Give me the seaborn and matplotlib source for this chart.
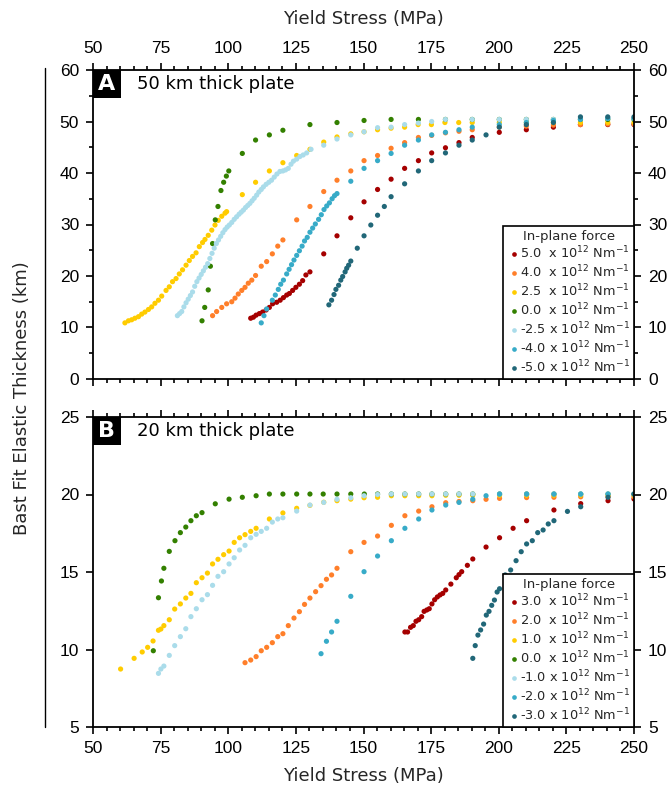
import numpy as np
import pandas as pd
import seaborn as sns
import matplotlib.pyplot as plt
from matplotlib.ticker import MultipleLocator
from matplotlib.lines import Line2D
from matplotlib.patches import Rectangle

# =========================================================
# DATA
# =========================================================
colors = ["#a50000", "#ff7f2a", "#ffcc00", "#338000", "#aadcea", "#37abc8", "#216778"]

labels_a = ["5.0  x 10$^{12}$ Nm$^{-1}$", "4.0  x 10$^{12}$ Nm$^{-1}$", "2.5  x 10$^{12}$ Nm$^{-1}$",
            "0.0  x 10$^{12}$ Nm$^{-1}$", "-2.5 x 10$^{12}$ Nm$^{-1}$", "-4.0 x 10$^{12}$ Nm$^{-1}$",
            "-5.0 x 10$^{12}$ Nm$^{-1}$"]
labels_b = ["3.0  x 10$^{12}$ Nm$^{-1}$", "2.0  x 10$^{12}$ Nm$^{-1}$", "1.0  x 10$^{12}$ Nm$^{-1}$",
            "0.0  x 10$^{12}$ Nm$^{-1}$", "-1.0 x 10$^{12}$ Nm$^{-1}$", "-2.0 x 10$^{12}$ Nm$^{-1}$",
            "-3.0 x 10$^{12}$ Nm$^{-1}$"]

# ---- Panel A: 50 km thick plate ----
a_red_x = [108.3, 109.3, 110.3, 111.5, 112.7, 114.0, 115.2, 116.4, 117.9, 119.2, 120.4, 121.6, 122.6, 123.8,
           125.0, 126.3, 127.5, 128.7, 130.2, 135.3, 140.2, 145.3, 150.2, 155.2, 160.2, 165.2, 170.3, 175.2,
           180.3, 185.3, 190.2, 200.2, 210.2, 220.2, 230.2, 240.3, 250.0]
a_red_y = [11.8, 12.0, 12.4, 12.7, 13.0, 13.4, 13.9, 14.6, 14.9, 15.3, 15.8, 16.3, 16.6, 17.2,
           17.8, 18.4, 19.1, 20.2, 20.8, 24.3, 27.8, 31.3, 34.4, 36.8, 38.8, 40.9, 42.4, 43.9,
           44.9, 45.9, 46.9, 47.9, 48.4, 48.9, 49.4, 49.4, 49.4]

a_orange_x = [94.2, 95.7, 97.6, 99.4, 101.3, 102.5, 103.7, 105.0, 106.2, 107.4, 108.7, 110.1, 112.2, 114.2,
              116.3, 118.3, 120.2, 125.3, 130.2, 135.3, 140.2, 145.3, 150.2, 155.2, 160.2, 165.2, 170.3,
              175.2, 180.3, 185.3, 190.2, 200.2, 210.2, 220.2, 230.2, 240.3, 250.0]
a_orange_y = [12.3, 13.1, 13.9, 14.6, 15.0, 15.7, 16.5, 17.2, 17.8, 18.6, 19.2, 20.1, 21.9, 22.8,
              24.3, 25.8, 27.0, 30.9, 33.5, 36.4, 38.6, 40.4, 42.4, 43.4, 44.8, 45.9, 46.9,
              47.3, 47.8, 48.1, 48.4, 48.9, 49.1, 49.3, 49.4, 49.5, 49.5]

a_yellow_x = [61.8, 63.1, 64.3, 65.5, 66.8, 68.0, 69.2, 70.5, 71.7, 72.9, 74.2, 75.4, 77.0, 78.2, 79.4,
              80.7, 81.9, 83.1, 84.4, 85.6, 86.8, 88.1, 89.3, 90.5, 91.4, 92.6, 93.9, 95.1, 96.3, 97.6,
              98.8, 99.4, 105.2, 110.1, 115.2, 120.2, 125.3, 130.2, 135.3, 140.2, 145.3, 150.2, 155.2,
              160.2, 165.2, 170.2, 175.1, 180.1, 185.2, 190.2, 200.2, 210.2, 220.2, 230.2, 240.3, 250.0]
a_yellow_y = [10.9, 11.3, 11.5, 11.8, 12.1, 12.6, 13.0, 13.5, 14.0, 14.7, 15.3, 16.1, 17.2, 17.9, 18.9,
              19.5, 20.4, 21.2, 22.1, 23.0, 23.8, 24.5, 25.7, 26.5, 27.1, 27.9, 28.9, 29.9, 30.8, 31.6,
              32.2, 32.5, 35.8, 38.2, 40.4, 42.0, 43.4, 44.6, 46.0, 47.0, 47.6, 48.0, 48.4,
              48.7, 48.9, 49.4, 49.4, 49.8, 49.8, 49.8, 49.8, 49.8, 49.8, 49.8, 49.8, 49.8]

a_green_x = [90.3, 91.3, 92.6, 93.4, 94.2, 95.2, 96.2, 97.3, 98.3, 99.3, 100.2, 105.2, 110.1, 115.2,
             120.2, 130.2, 140.2, 150.2, 160.2, 170.3, 180.3, 190.2, 200.2, 210.2, 220.2, 230.2, 240.3, 250.0]
a_green_y = [11.3, 13.9, 17.3, 21.9, 26.3, 30.9, 33.5, 36.6, 38.2, 39.4, 40.4, 43.8, 46.4, 47.4,
             48.3, 49.4, 49.8, 50.2, 50.4, 50.4, 50.4, 50.4, 50.4, 50.4, 50.4, 50.4, 50.4, 50.4]

a_lblue_x = [81.2, 82.0, 82.8, 83.6, 84.4, 85.2, 86.0, 86.8, 87.6, 88.4, 89.2, 90.0, 90.8, 91.6, 92.4,
             93.2, 94.0, 94.8, 95.6, 96.4, 97.2, 98.0, 98.8, 99.6, 100.4, 101.3, 102.2, 103.1, 104.0,
             104.8, 105.6, 106.4, 107.2, 108.0, 108.8, 109.6, 110.5, 111.3, 112.2, 113.0, 114.0, 115.0,
             116.0, 117.0, 118.0, 119.1, 120.2, 121.2, 122.2, 123.2, 124.1, 125.3, 126.5, 127.7, 129.0,
             130.6, 135.3, 140.2, 145.3, 150.2, 155.2, 160.2, 165.2, 170.3, 175.2, 180.3, 190.2, 200.2,
             210.2, 220.2, 230.2, 240.3, 250.0]
a_lblue_y = [12.3, 12.7, 13.1, 14.0, 14.8, 15.5, 16.2, 16.9, 18.0, 18.9, 19.6, 20.3, 21.0, 21.7, 22.4,
             23.4, 24.4, 25.4, 26.3, 27.0, 27.7, 28.4, 29.0, 29.5, 29.9, 30.4, 31.0, 31.5, 32.0,
             32.4, 32.8, 33.3, 33.7, 34.1, 34.6, 35.1, 35.7, 36.3, 36.8, 37.3, 37.8, 38.2,
             38.6, 39.2, 39.8, 40.3, 40.4, 40.6, 40.9, 41.7, 42.3, 42.7, 43.2, 43.5, 43.9,
             44.6, 45.4, 46.6, 47.4, 48.0, 48.8, 48.9, 49.4, 49.7, 50.0, 50.4, 50.4, 50.4,
             50.4, 50.4, 50.6, 50.6, 50.6]

a_blue_x = [112.2, 113.2, 114.2, 116.3, 117.4, 118.5, 119.4, 120.4, 121.6, 122.5, 123.4, 124.3, 125.3,
            126.3, 127.3, 128.2, 129.2, 130.2, 131.2, 132.2, 133.4, 134.4, 135.4, 136.4, 137.4, 138.4,
            139.3, 140.2, 145.3, 150.2, 155.2, 160.2, 165.2, 170.3, 175.2, 180.3, 185.3, 190.2, 200.2,
            210.2, 220.2, 230.2, 240.3, 250.0]
a_blue_y = [10.9, 12.3, 13.6, 15.3, 16.3, 17.4, 18.4, 19.2, 20.4, 21.3, 22.2, 23.1, 24.0,
            24.9, 25.8, 26.8, 27.5, 28.5, 29.3, 30.1, 31.0, 31.9, 32.9, 33.6, 34.2, 35.0,
            35.6, 36.0, 38.4, 40.9, 42.4, 43.8, 45.4, 46.4, 47.4, 47.9, 48.4, 48.9, 49.4,
            49.8, 50.2, 50.4, 50.6, 50.6]

a_teal_x = [137.2, 138.2, 139.1, 139.8, 140.8, 141.6, 142.3, 143.2, 143.8, 144.5, 145.3, 147.7, 150.2,
            152.7, 155.2, 157.7, 160.2, 165.2, 170.3, 175.2, 180.3, 185.3, 190.2, 195.3, 200.2, 210.2,
            220.2, 230.2, 240.3, 250.0]
a_teal_y = [14.4, 15.3, 16.4, 17.4, 18.2, 19.2, 19.9, 20.8, 21.5, 22.1, 22.9, 25.4, 27.8,
            29.9, 31.8, 33.5, 35.4, 37.9, 40.4, 42.4, 43.9, 45.4, 46.4, 47.4, 48.9, 49.4,
            49.8, 50.9, 50.9, 50.9]

# ---- Panel B: 20 km thick plate ----
b_red_x = [165.3, 166.3, 167.4, 168.4, 169.4, 170.4, 171.5, 172.4, 173.4, 174.3, 175.3, 176.3, 177.3,
           178.3, 179.3, 180.4, 182.3, 184.3, 185.3, 186.3, 188.4, 190.4, 195.3, 200.3, 205.3, 210.3,
           220.4, 230.3, 240.4, 250.0]
b_red_y = [11.13, 11.13, 11.43, 11.54, 11.82, 11.92, 12.12, 12.46, 12.55, 12.63, 12.94, 13.21, 13.39,
           13.52, 13.62, 13.84, 14.22, 14.63, 14.83, 15.02, 15.43, 15.84, 16.61, 17.21, 17.82, 18.31,
           19.0, 19.41, 19.6, 19.71]

b_orange_x = [106.2, 108.3, 110.3, 112.2, 114.2, 116.3, 118.3, 120.2, 122.2, 124.3, 126.3, 128.2, 130.2,
              132.3, 134.3, 136.3, 138.2, 140.2, 145.3, 150.2, 155.2, 160.3, 165.3, 170.4, 175.3, 180.4,
              185.3, 190.4, 195.3, 200.3, 210.3, 220.4, 230.3, 240.4, 250.0]
b_orange_y = [9.15, 9.32, 9.54, 9.92, 10.14, 10.44, 10.83, 11.02, 11.54, 12.03, 12.44, 12.91, 13.32,
              13.73, 14.12, 14.53, 14.81, 15.24, 16.31, 16.91, 17.32, 18.01, 18.63, 18.93, 19.21, 19.47,
              19.55, 19.6, 19.69, 19.75, 19.8, 19.82, 19.85, 19.85, 19.85]

b_yellow_x = [60.2, 65.2, 68.2, 70.2, 72.2, 74.2, 75.1, 76.2, 78.2, 80.2, 82.3, 84.3, 86.2, 88.2, 90.3,
              92.3, 94.2, 96.2, 98.3, 100.3, 102.2, 104.2, 106.2, 108.3, 110.3, 115.2, 120.2, 125.3,
              130.2, 135.3, 140.2, 145.3, 150.2, 155.2, 160.3, 165.3, 170.4, 175.3, 180.4, 185.3, 190.4,
              200.3, 210.3, 220.4, 230.3, 240.4, 250.0]
b_yellow_y = [8.74, 9.43, 9.84, 10.14, 10.55, 11.24, 11.32, 11.54, 11.92, 12.61, 12.94, 13.32, 13.62,
              14.31, 14.63, 14.93, 15.52, 15.82, 16.12, 16.35, 16.91, 17.21, 17.41, 17.62, 17.82, 18.42,
              18.81, 19.11, 19.3, 19.5, 19.6, 19.7, 19.79, 19.82, 19.92, 19.92, 19.92, 19.92, 19.95,
              19.95, 19.95, 19.95, 19.95, 19.95, 19.95, 19.95, 19.95]

b_green_x = [72.3, 74.2, 75.3, 76.2, 78.2, 80.3, 82.3, 84.3, 86.2, 88.2, 90.3, 95.2, 100.3, 105.2, 110.3,
             115.2, 120.2, 125.3, 130.2, 135.1, 140.2, 145.3, 150.3, 155.2, 160.3, 165.3, 170.4, 175.3,
             180.4, 185.3, 190.4, 200.3, 210.3, 220.4, 230.3, 240.4, 250.0]
b_green_y = [9.92, 13.34, 14.42, 15.24, 16.33, 17.02, 17.54, 17.9, 18.31, 18.63, 18.83, 19.4, 19.7, 19.82,
             19.92, 20.03, 20.03, 20.03, 20.03, 20.03, 20.03, 20.03, 20.03, 20.03, 20.03, 20.03, 20.03,
             20.03, 20.03, 20.03, 20.03, 20.03, 20.03, 20.03, 20.03, 20.03, 20.03]

b_lblue_x = [74.2, 75.1, 76.2, 78.2, 80.2, 82.3, 84.3, 86.2, 88.2, 90.3, 92.3, 94.2, 96.2, 98.3, 100.3,
             102.2, 104.2, 106.2, 108.3, 110.3, 112.2, 114.2, 116.3, 118.3, 120.2, 125.3, 130.2, 135.3,
             140.2, 145.3, 150.2, 155.2, 160.3, 165.3, 170.4, 175.3, 180.4, 185.3, 190.4, 200.3, 210.3,
             220.4, 230.3, 240.4, 250.0]
b_lblue_y = [8.46, 8.74, 8.93, 9.62, 10.25, 10.83, 11.34, 12.12, 12.63, 13.21, 13.54, 14.14, 14.72,
             15.02, 15.52, 15.92, 16.42, 16.72, 17.21, 17.43, 17.62, 17.82, 18.22, 18.42, 18.5, 18.93,
             19.32, 19.49, 19.69, 19.79, 19.92, 20.0, 20.03, 20.03, 20.03, 20.03, 20.03, 20.03, 20.03,
             20.03, 20.03, 20.03, 20.03, 20.03, 20.03]

b_blue_x = [134.3, 136.3, 138.2, 140.2, 145.3, 150.2, 155.2, 160.3, 165.3, 170.4, 175.3, 180.4, 185.3,
            190.4, 195.3, 200.3, 210.3, 220.4, 230.3, 240.4, 250.0]
b_blue_y = [9.73, 10.53, 11.13, 11.82, 13.43, 15.02, 16.03, 17.02, 17.82, 18.42, 19.0, 19.32, 19.49,
            19.69, 19.92, 20.03, 20.03, 20.03, 20.03, 20.03, 20.03]

b_teal_x = [190.4, 191.3, 192.3, 193.3, 194.4, 195.4, 196.4, 197.4, 198.4, 199.4, 200.3, 202.4, 204.4,
            206.4, 208.3, 210.3, 212.4, 214.4, 216.4, 218.3, 220.4, 225.4, 230.3, 240.4, 250.0]
b_teal_y = [9.43, 10.25, 10.93, 11.26, 11.64, 12.22, 12.46, 12.85, 13.19, 13.71, 13.92, 14.81, 15.13,
            15.73, 16.31, 16.81, 17.02, 17.54, 17.71, 18.1, 18.31, 18.91, 19.21, 19.82, 20.03]

panel_a = [(a_red_x, a_red_y), (a_orange_x, a_orange_y), (a_yellow_x, a_yellow_y), (a_green_x, a_green_y),
           (a_lblue_x, a_lblue_y), (a_blue_x, a_blue_y), (a_teal_x, a_teal_y)]
panel_b = [(b_red_x, b_red_y), (b_orange_x, b_orange_y), (b_yellow_x, b_yellow_y), (b_green_x, b_green_y),
           (b_lblue_x, b_lblue_y), (b_blue_x, b_blue_y), (b_teal_x, b_teal_y)]


def make_df(series, labels):
    rows = []
    for lab, (xs, ys) in zip(labels, series):
        for x, y in zip(xs, ys):
            rows.append((lab, x, y))
    return pd.DataFrame(rows, columns=["force", "stress", "te"])


# =========================================================
# FIGURE
# =========================================================
sns.set_theme(style="ticks")
plt.rcParams['font.family'] = ['DejaVu Sans']
plt.rcParams['mathtext.fontset'] = 'dejavusans'

fig = plt.figure(figsize=(6.71, 7.93), dpi=100)
ax_a = fig.add_axes([93 / 671, 1 - 379 / 793, 541 / 671, 309 / 793])
ax_b = fig.add_axes([93 / 671, 1 - 727 / 793, 541 / 671, 310 / 793])

for ax, series, labels, title, tag in [(ax_a, panel_a, labels_a, "50 km thick plate", "A"),
                                       (ax_b, panel_b, labels_b, "20 km thick plate", "B")]:
    df = make_df(series, labels)
    sns.scatterplot(data=df, x="stress", y="te", hue="force", hue_order=labels,
                    palette=colors, s=14, linewidth=0, ax=ax)
    handles, labs = ax.get_legend_handles_labels()
    leg = ax.legend(handles, labs, title="In-plane force", loc="lower right", borderaxespad=0,
                    frameon=True, fancybox=False, edgecolor="black", fontsize=9.3, title_fontsize=9.5,
                    handletextpad=0.0, borderpad=0.3, labelspacing=0.18, handlelength=1.0,
                    markerscale=0.9)
    leg.get_frame().set_linewidth(1.2)
    leg.get_frame().set_alpha(1)

    ax.set_xlim(50, 250)
    ax.xaxis.set_major_locator(MultipleLocator(25))
    ax.xaxis.set_minor_locator(MultipleLocator(5))
    ax.tick_params(which="both", direction="out", top=True, right=True, bottom=True, left=True,
                   labelright=True, width=1.2, labelsize=12.5, colors="black", pad=5)
    ax.tick_params(which="major", length=5)
    ax.tick_params(which="minor", length=3)
    for sp in ax.spines.values():
        sp.set_linewidth(1.3)
        sp.set_color("black")
    ax.set_ylabel("")

    # panel tag
    w = 28 / 541
    h = 28 / (ax.get_position().height * 793)
    ax.add_patch(Rectangle((0, 1 - h), w, h, transform=ax.transAxes, facecolor="black",
                           edgecolor="none", zorder=5, clip_on=False))
    ax.text(w / 2, 1 - h / 2, tag, transform=ax.transAxes, ha="center", va="center",
            color="white", fontsize=16, weight="bold", zorder=6)
    ax.text(0.081, 1 - h / 2, title, transform=ax.transAxes, ha="left", va="center",
            fontsize=13, color="black")

ax_a.set_ylim(0, 60)
ax_a.yaxis.set_major_locator(MultipleLocator(10))
ax_a.yaxis.set_minor_locator(MultipleLocator(5))
ax_a.tick_params(labeltop=True, labelbottom=False)
ax_a.xaxis.set_label_position("top")
ax_a.set_xlabel("Yield Stress (MPa)", fontsize=13, labelpad=12)

ax_b.set_ylim(5, 25)
ax_b.yaxis.set_major_locator(MultipleLocator(5))
ax_b.tick_params(labeltop=False, labelbottom=True)
ax_b.set_xlabel("Yield Stress (MPa)", fontsize=13, labelpad=8)

for ax in (ax_a, ax_b):
    for t in ax.yaxis.get_major_ticks() + ax.xaxis.get_major_ticks():
        t.label1.set_fontfamily("Liberation Sans")
        t.label2.set_fontfamily("Liberation Sans")

fig.text(22 / 671, 0.498, "Bast Fit Elastic Thickness (km)", rotation=90, ha="center", va="center",
         fontsize=13)
fig.add_artist(Line2D([45 / 671, 45 / 671], [1 - 68 / 793, 1 - 727 / 793], color="black", lw=1))

fig.savefig("out.png", dpi=100)
